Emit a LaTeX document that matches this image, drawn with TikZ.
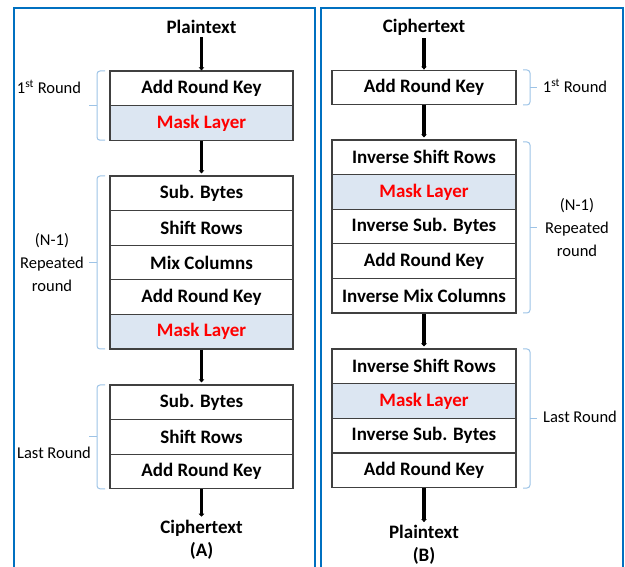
\documentclass[tikz,border=0pt]{standalone}
\usepackage{fontspec}
\setmainfont{Carlito}
\usetikzlibrary{arrows.meta,calc}
\definecolor{framecol}{RGB}{0,112,192}
\definecolor{bracecol}{RGB}{157,195,230}
\definecolor{maskfill}{RGB}{220,230,242}
\definecolor{boxline}{RGB}{64,64,64}
\tikzset{
  stage/.style={draw=boxline, line width=1.3pt, fill=white,
    minimum height=34.6pt, inner sep=0pt, font=\fontsize{19}{21}\selectfont\bfseries},
  leftstage/.style={stage, minimum width=183pt},
  rightstage/.style={stage, minimum width=184pt},
  masked/.style={fill=maskfill, text=red},
  ioText/.style={inner sep=3pt, font=\fontsize{19}{21}\selectfont\bfseries},
  lbl/.style={font=\fontsize{16.5}{23}\selectfont, align=center, inner sep=0pt},
  flow/.style={line width=3.4pt, -{Triangle[length=3pt,width=5.5pt]}},
  bracket/.style={draw=bracecol, line width=1pt, rounded corners=3pt},
  tick/.style={draw=bracecol, line width=1pt},
  panel/.style={draw=framecol, line width=2pt}
}
\begin{document}
\begin{tikzpicture}[x=1pt,y=-1pt]
\useasboundingbox (0,0) rectangle (625,567);
\clip (0,0) rectangle (625,567);

% outer panels
\draw[panel] (14,8) rectangle (315,580);
\draw[panel] (321,8) rectangle (623,580);

% ---------- (A) encryption ----------
\node[ioText] (pA) at (201.5,27) {Plaintext};
\node[leftstage] (a1) at (201.5,88.3) {Add Round Key};
\node[leftstage,masked] (a2) at (201.5,122.9) {Mask Layer};

\node[leftstage] (a3) at (201.5,193.3) {Sub. Bytes};
\node[leftstage] (a4) at (201.5,227.9) {Shift Rows};
\node[leftstage] (a5) at (201.5,262.5) {Mix Columns};
\node[leftstage] (a6) at (201.5,297.1) {Add Round Key};
\node[leftstage,masked] (a7) at (201.5,331.7) {Mask Layer};

\node[leftstage] (a8) at (201.5,402.3) {Sub. Bytes};
\node[leftstage] (a9) at (201.5,436.9) {Shift Rows};
\node[leftstage] (a10) at (201.5,471.5) {Add Round Key};

\node[ioText] (cA) at (201.5,528) {Ciphertext};
\node[ioText, inner sep=0pt] (capA) at (201.5,551) {(A)};

\draw[flow] (pA) -- (a1);
\draw[flow] (a2) -- ($(a3.north)+(0,-2)$);
\draw[flow] (a7) -- ($(a8.north)+(0,-2)$);
\draw[flow] (a10) -- (cA);

% round brackets, left side (hook ends at x=105, spine at x=97, tick to x=89)
\foreach \t/\b/\n in {71/140.2/ba1, 176/349/ba2, 385/488.8/ba3} {
  \coordinate (\n t) at (105,\t);
  \coordinate (\n b) at (105,\b);
  \draw[bracket] (\n t) -- ++(-8,0) |- (\n b);
  \draw[tick] ($(\n t)!0.5!(\n b)+(-8,0)$) -- ++(-8,0);
}

\node[lbl] (la1) at (49,87) {1\textsuperscript{st} Round};
\node[lbl] (la2) at (52,263) {(N-1)\\Repeated\\round};
\node[lbl] (la3) at (54,453) {Last Round};

% ---------- (B) decryption ----------
\node[ioText] (cB) at (424,27) {Ciphertext};
\node[rightstage] (b1) at (424,87.5) {Add Round Key};

\node[rightstage] (b2) at (424,157.3) {Inverse Shift Rows};
\node[rightstage,masked] (b3) at (424,191.9) {Mask Layer};
\node[rightstage] (b4) at (424,226.5) {Inverse Sub. Bytes};
\node[rightstage] (b5) at (424,261.1) {Add Round Key};
\node[rightstage] (b6) at (424,295.7) {Inverse Mix Columns};

\node[rightstage] (b7) at (424,366.4) {Inverse Shift Rows};
\node[rightstage,masked] (b8) at (424,401.1) {Mask Layer};
\node[rightstage] (b9) at (424,435.8) {Inverse Sub. Bytes};
\node[rightstage] (b10) at (424,470.5) {Add Round Key};

\node[ioText] (pB) at (424,532) {Plaintext};
\node[ioText, inner sep=0pt] (capB) at (424,556) {(B)};

\draw[flow] (cB) -- (b1);
\draw[flow] (b1) -- ($(b2.north)+(0,-2)$);
\draw[flow] (b6) -- ($(b7.north)+(0,-2)$);
\draw[flow] (b10) -- (pB);

% round brackets, right side (hook ends at x=523, spine at x=530, tick to x=537)
\foreach \t/\b/\n in {70/105/bb1, 142/313/bb2, 349/488/bb3} {
  \coordinate (\n t) at (523,\t);
  \coordinate (\n b) at (523,\b);
  \draw[bracket] (\n t) -- ++(7,0) |- (\n b);
  \draw[tick] ($(\n t)!0.5!(\n b)+(7,0)$) -- ++(7,0);
}

\node[lbl] (lb1) at (575,86) {1\textsuperscript{st} Round};
\node[lbl] (lb2) at (577,228) {(N-1)\\Repeated\\round};
\node[lbl] (lb3) at (580,417) {Last Round};
\end{tikzpicture}
\end{document}
